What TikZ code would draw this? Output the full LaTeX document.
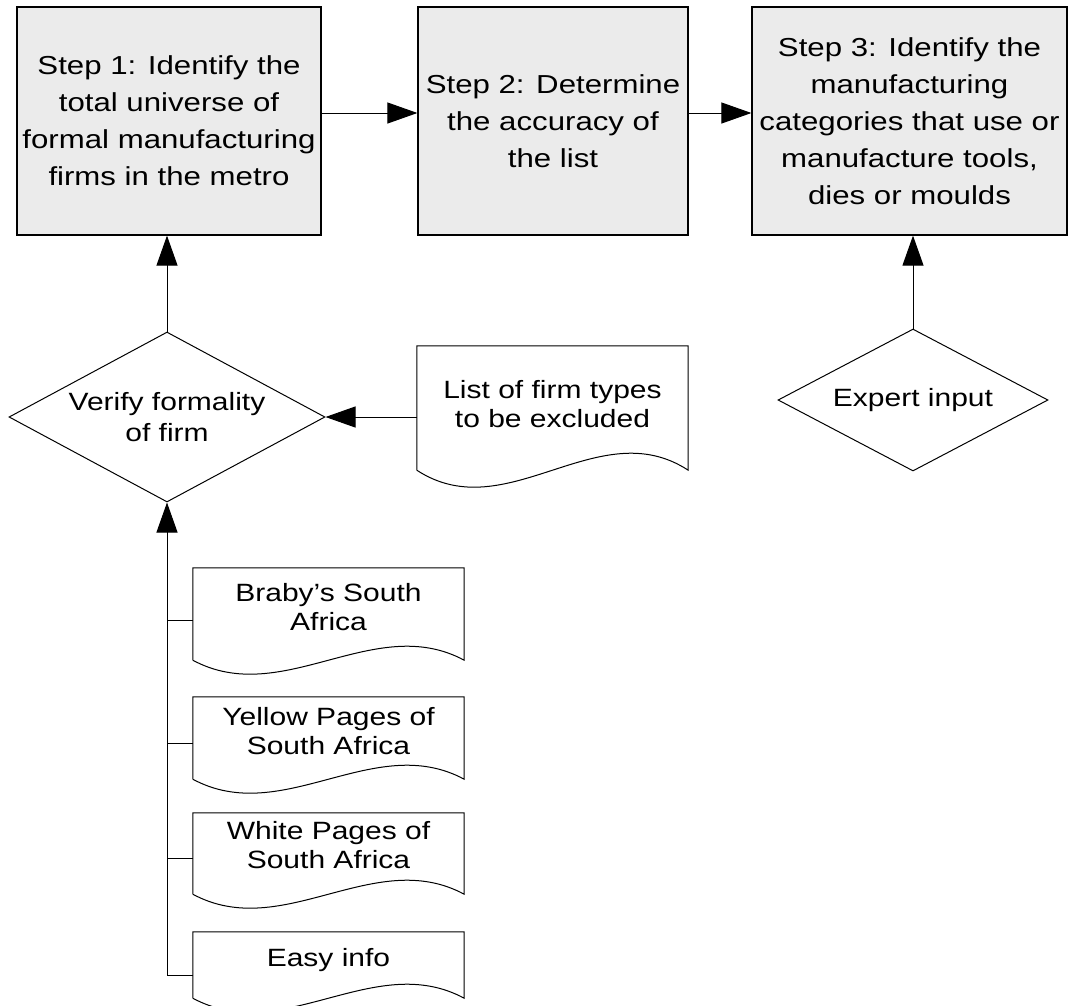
\documentclass[tikz,border=0pt]{standalone}
\usepackage{fontspec}
\setmainfont{Liberation Sans}[FakeStretch=1.2]
\usetikzlibrary{calc,shapes.geometric,arrows.meta}

\tikzset{
  stepbox/.style={draw, line width=1.2pt, fill=black!8, align=center, inner sep=0pt,
    font=\fontsize{26}{37}\selectfont},
  decision/.style={draw, diamond, line width=1pt, align=center, inner sep=0pt,
    font=\fontsize{25}{31}\selectfont},
  docbox/.style={align=center, inner sep=0pt, minimum width=271pt,
    font=\fontsize{25}{29}\selectfont},
  conn/.style={line width=1pt},
  arr/.style={line width=1pt, -{Triangle[length=30pt,width=21pt]}},
}

% document outline round node #1: corners #2 below its south, wave depth #3
\newcommand{\docoutline}[3]{%
  \draw[conn] ($(#1.south west)+(0,#2)$) -- (#1.north west) -- (#1.north east) -- ($(#1.south east)+(0,#2)$)
    .. controls ($(#1.south east)+(-90,#2-3.46*#3)$) and ($(#1.south west)+(90,#2+3.46*#3)$)
    .. ($(#1.south west)+(0,#2)$);
}

\begin{document}
\begin{tikzpicture}[x=1pt,y=-1pt]
    \useasboundingbox (0,0) rectangle (1069,1005);
    % steps
    \node[stepbox, minimum width=304pt, minimum height=228pt] (step1) at (169,121)
      {Step 1: Identify the\\total universe of\\formal manufacturing\\firms in the metro};
    \node[stepbox, minimum width=270pt, minimum height=228pt] (step2) at (553,121)
      {Step 2: Determine\\the accuracy of\\the list};
    \node[stepbox, minimum width=315pt, minimum height=228pt] (step3) at (909.5,121)
      {Step 3: Identify the\\manufacturing\\categories that use or\\manufacture tools,\\dies or moulds};
    % checks
    \node[decision, minimum width=316pt, minimum height=170pt, aspect=1.86] (verify) at (167,417)
      {Verify formality\\of firm};
    \node[decision, minimum width=270pt, minimum height=142pt, aspect=1.9] (expert) at (913,400)
      {Expert input};
    % sources
    \node[docbox, minimum height=117pt] (excl) at (552.5,404.5) {List of firm types\\to be excluded};
    \docoutline{excl}{7}{17}
    \node[docbox, minimum height=78pt] (braby) at (328.5,607) {Braby's South\\Africa};
    \docoutline{braby}{14}{14}
    \node[docbox, minimum height=68pt] (yellow) at (328.5,731) {Yellow Pages of\\South Africa};
    \docoutline{yellow}{14}{14}
    \node[docbox, minimum height=64pt] (white) at (328.5,845) {White Pages of\\South Africa};
    \docoutline{white}{17}{14}
    \node[docbox, minimum height=56pt] (easy) at (328.5,960) {Easy info};
    \docoutline{easy}{10}{14}
    % flow
    \draw[arr] ([yshift=8pt]step1.east) -- ([yshift=8pt]step2.west);
    \draw[arr] ([yshift=8pt]step2.east) -- ([yshift=8pt]step3.west);
    \draw[arr] (verify.north) -- (verify.north |- step1.south);
    \draw[arr] (expert.north) -- (expert.north |- step3.south);
    \draw[arr] ([yshift=-12.5pt]excl.west) -- (verify.east);
    \draw[arr] ([yshift=-15pt]easy.west) -| (verify.south);
    \draw[conn] ([yshift=-13pt]braby.west) -- ([yshift=-13pt]braby.west -| verify.south);
    \draw[conn] ([yshift=-12pt]yellow.west) -- ([yshift=-12pt]yellow.west -| verify.south);
    \draw[conn] ([yshift=-13pt]white.west) -- ([yshift=-13pt]white.west -| verify.south);
\end{tikzpicture}
\end{document}
